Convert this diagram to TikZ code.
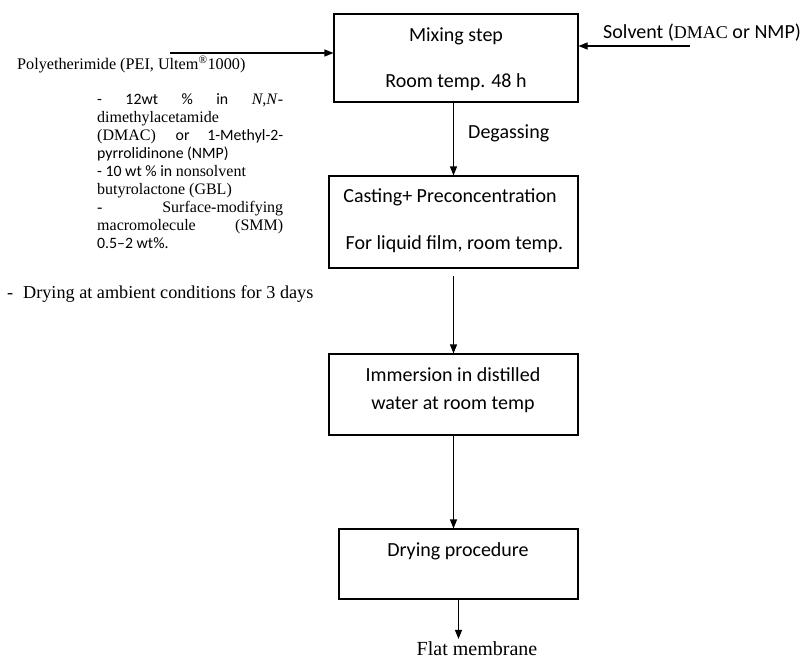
\documentclass[tikz,border=0pt]{standalone}
\usepackage{fontspec}
\setmainfont{Liberation Serif}
\newfontfamily\calibfam{Carlito}
\usetikzlibrary{arrows.meta}
% fonts: Carlito for the step texts, Liberation Serif for the notes
\newcommand\cbig{\calibfam\fontsize{20}{24}\selectfont}
\newcommand\cbr{\calibfam\fontsize{15.8}{17.9}\selectfont}
\newcommand\tnr{\rmfamily\fontsize{16}{17.9}\selectfont}
\newcommand\tmid{\rmfamily\fontsize{16.2}{19}\selectfont}
\begin{document}
\begin{tikzpicture}[x=1pt,y=-1pt,
  stage/.style={draw, line width=1.1pt, inner sep=0pt},
  flow/.style={line width=1.1pt, -{Triangle[length=9pt,width=7pt]}},
  lbl/.style={inner sep=0pt, anchor=base},
  note/.style={inner sep=0pt, anchor=base west}]
\useasboundingbox (0,0) rectangle (802,658);

% process steps
\node[stage, minimum width=244pt, minimum height=88pt] (mix)  at (456,58) {};
\node[stage, minimum width=249pt, minimum height=92pt] (cast) at (453.5,222) {};
\node[stage, minimum width=249pt, minimum height=81pt] (imm)  at (453.5,394.5) {};
\node[stage, minimum width=239pt, minimum height=70pt] (dry)  at (458.5,564) {};

% texts inside the steps
\node[lbl] (mixA)  at (456,42)  {\cbig Mixing step};
\node[lbl] (mixB)  at (456,88)  {\cbig Room temp. 48 h};
\node[lbl] (castA) at (450,202) {\cbig Casting+ Preconcentration};
\node[lbl] (castB) at (454.5,249) {\cbig For liquid film, room temp.};
\node[lbl] (immA)  at (453,381) {\cbig Immersion in distilled};
\node[lbl] (immB)  at (453,409) {\cbig water at room temp};
\node[lbl] (dryA)  at (458,556) {\cbig Drying procedure};

% inputs, labels and product
\node[note] (poly) at (17,70) {\tmid Polyetherimide (PEI, Ultem\textsuperscript{\textregistered}1000)};
\node[note] (solv) at (603,39) {\cbig Solvent (\rmfamily\fontsize{18}{22}\selectfont DMAC\cbig{} or NMP)};
\node[note] (degas) at (468,138) {\cbig Degassing};
\node[lbl] (flat) at (477,655) {\rmfamily\fontsize{20}{24}\selectfont Flat membrane};
\node[note] (dryamb) at (7,298) {\rmfamily\fontsize{18.2}{22}\selectfont\makebox[16pt][l]{-}Drying at ambient conditions for 3 days};

% composition of the casting solution
\node[note] (c1) at (97,105)   {\makebox[186pt][s]{\cbr - 12wt \% in \tnr\textit{N},\textit{N}-}};
\node[note] (c2) at (97,122.9) {\tnr dimethylacetamide};
\node[note] (c3) at (97,140.8) {\makebox[186pt][s]{\tnr (DMAC) \cbr or 1-Methyl-2-}};
\node[note] (c4) at (97,158.7) {\cbr pyrrolidinone (NMP)};
\node[note] (c5) at (97,176.6) {\cbr - 10 wt \% in \tnr nonsolvent};
\node[note] (c6) at (97,194.5) {\tnr butyrolactone (GBL)};
\node[note] (c7) at (97,212.4) {\makebox[186pt][s]{\tnr - Surface-modifying}};
\node[note] (c8) at (97,230.3) {\makebox[186pt][s]{\tnr macromolecule (SMM)}};
\node[note] (c9) at (97,248.2) {\cbr 0.5–2 wt\%.};

% connectors
\coordinate (polyS) at (170,53);
\coordinate (solvS) at (690,46);
\draw[flow] (polyS) -- (polyS -| mix.west);
\draw[flow] (solvS) -- (solvS -| mix.east);
\draw[flow] (cast.north |- mix.south) -- (cast.north);
\draw[flow] ([yshift=-7pt]cast.south) -- (imm.north);
\draw[flow] (imm.south) -- (imm.south |- dry.north);
\draw[flow] (dry.south) -- ([yshift=2pt]dry.south |- flat.north);
\end{tikzpicture}
\end{document}
